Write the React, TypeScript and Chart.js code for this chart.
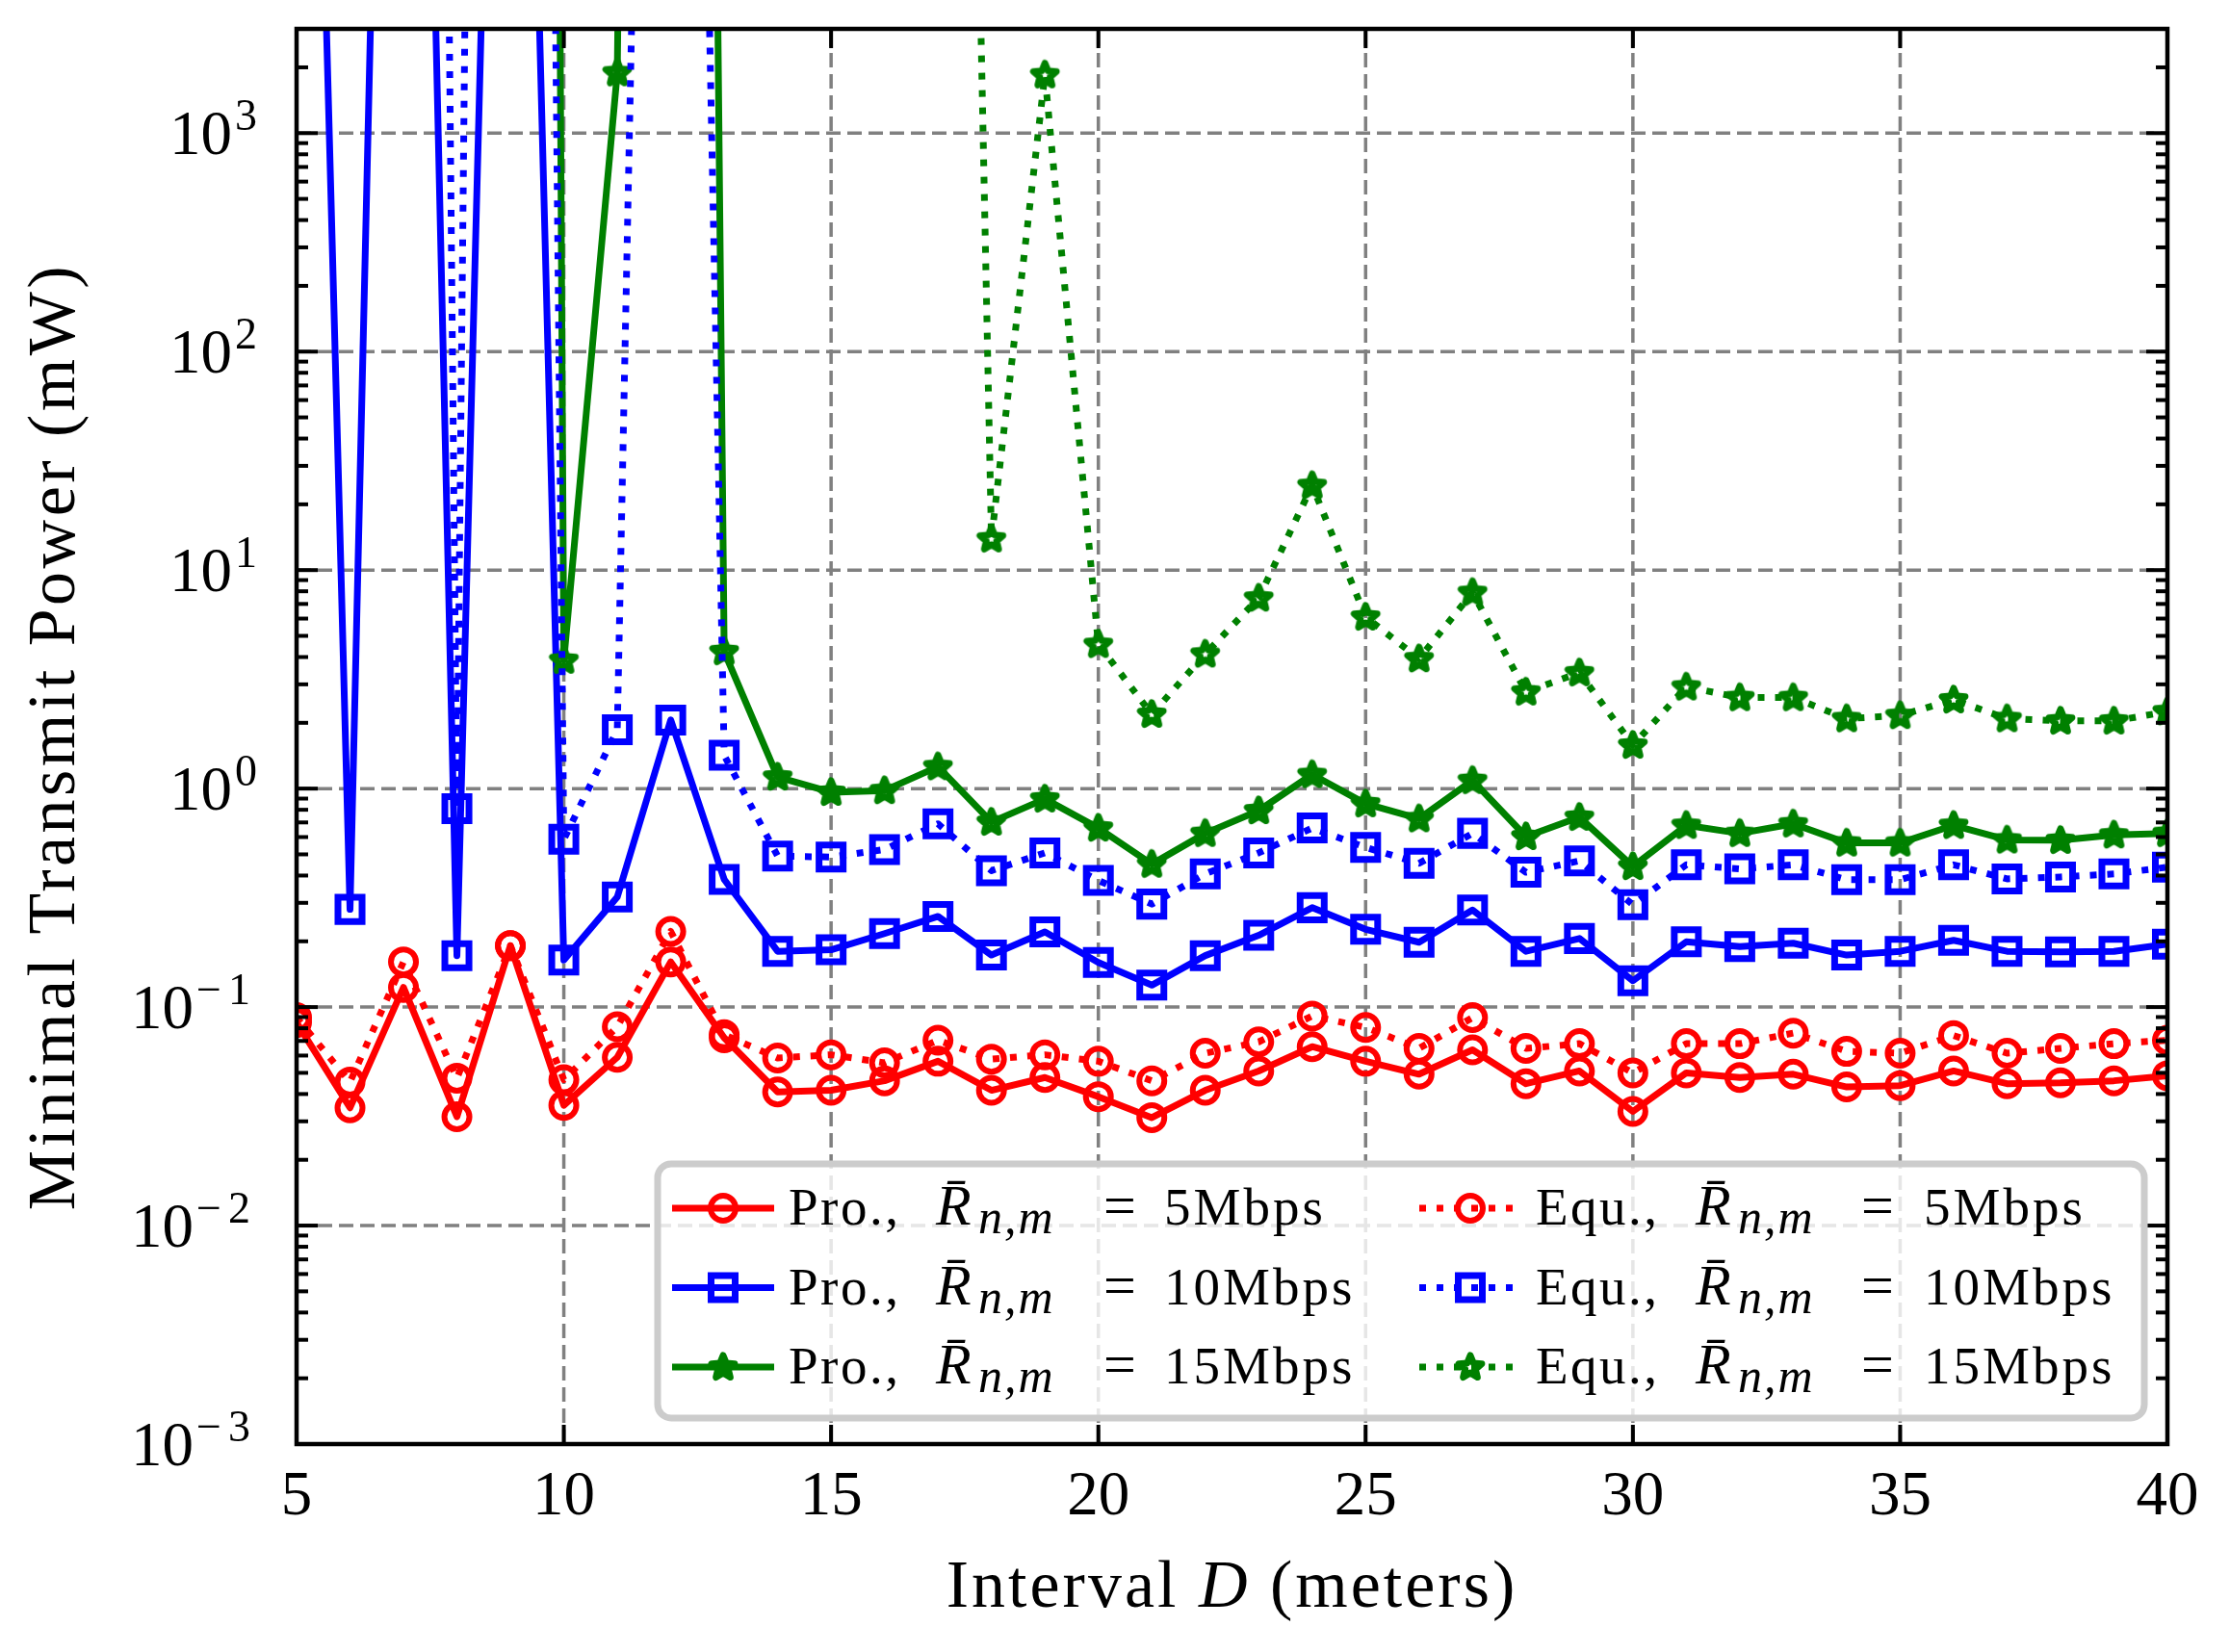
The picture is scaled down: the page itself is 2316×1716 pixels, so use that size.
import { useEffect, useRef } from 'react';
import { Chart, registerables } from 'chart.js';

Chart.register(...registerables);

// interval D (meters)
const distance = [
  5, 6, 7, 8, 9, 10, 11, 12, 13, 14, 15, 16, 17, 18, 19, 20, 21, 22,
  23, 24, 25, 26, 27, 28, 29, 30, 31, 32, 33, 34, 35, 36, 37, 38, 39, 40,
];

// minimal transmit power (mW); very large values are the infeasible points that run off the top
const pro5 = [
  0.085, 0.0346, 0.123, 0.0315, 0.191, 0.0355, 0.0589, 0.161, 0.0724, 0.0409, 0.0416, 0.046,
  0.0565, 0.0416, 0.0476, 0.0389, 0.0312, 0.0416, 0.051, 0.0659, 0.0565, 0.0493, 0.0637, 0.0446,
  0.051, 0.0333, 0.05, 0.0476, 0.0493, 0.0431, 0.0437, 0.051, 0.0446, 0.045, 0.046, 0.0485,
];
const pro10 = [
  4e8, 0.28, 1e10, 0.172, 4e8, 0.164, 0.319, 2.06, 0.384, 0.18, 0.183, 0.217,
  0.26, 0.173, 0.221, 0.16, 0.126, 0.172, 0.213, 0.285, 0.227, 0.198, 0.278, 0.18,
  0.206, 0.132, 0.199, 0.189, 0.196, 0.173, 0.18, 0.202, 0.18, 0.179, 0.18, 0.194,
];
const pro15 = [
  1e40, 1e40, 1e40, 1e40, 1e42, 3.87, 1890, 1e25, 4.24, 1.13, 0.962, 0.98,
  1.26, 0.703, 0.897, 0.66, 0.451, 0.624, 0.793, 1.16, 0.853, 0.728, 1.09, 0.603,
  0.74, 0.44, 0.679, 0.624, 0.69, 0.564, 0.564, 0.679, 0.582, 0.58, 0.614, 0.624,
];
const equ5 = [
  0.0896, 0.0454, 0.161, 0.0473, 0.191, 0.0465, 0.0813, 0.222, 0.0747, 0.0585, 0.0605, 0.0556,
  0.0705, 0.0578, 0.0605, 0.0565, 0.046, 0.0615, 0.0693, 0.091, 0.0807, 0.0647, 0.0895, 0.0647,
  0.068, 0.05, 0.068, 0.068, 0.076, 0.0627, 0.0615, 0.0741, 0.0615, 0.0647, 0.068, 0.0705,
];
const equ10 = [
  1e25, 1e25, 1e25, 0.81, 1e24, 0.586, 1.86, 2e12, 1.42, 0.491, 0.486, 0.526,
  0.69, 0.421, 0.508, 0.38, 0.296, 0.407, 0.508, 0.66, 0.538, 0.455, 0.624, 0.414,
  0.467, 0.294, 0.448, 0.429, 0.448, 0.383, 0.383, 0.448, 0.386, 0.394, 0.407, 0.437,
];
const equ15 = [
  1e40, 1e40, 1e40, 1e40, 1e40, 1e40, 1e40, 1e40, 1e40, 1e40, 1e40, 1e40,
  1e13, 13.9, 1850, 4.57, 2.19, 4.13, 7.45, 24.4, 6.1, 3.93, 7.9, 2.77,
  3.39, 1.58, 2.92, 2.61, 2.61, 2.09, 2.16, 2.55, 2.09, 2.04, 2.04, 2.25,
];

const X_TICKS = [5, 10, 15, 20, 25, 30, 35, 40];
const Y_DECADES = [-3, -2, -1, 0, 1, 2, 3];
const RATES = [5, 10, 15];
const Y_MIN = 1e-3;
const Y_MAX = 3000;

const SERIF = '"Liberation Serif", "DejaVu Serif", serif';

const series = [
  { scheme: 'Pro.', rate: 5, data: pro5, color: '#ff0000', marker: 'circle', dotted: false },
  { scheme: 'Pro.', rate: 10, data: pro10, color: '#0000ff', marker: 'rect', dotted: false },
  { scheme: 'Pro.', rate: 15, data: pro15, color: '#008000', marker: 'star', dotted: false },
  { scheme: 'Equ.', rate: 5, data: equ5, color: '#ff0000', marker: 'circle', dotted: true },
  { scheme: 'Equ.', rate: 10, data: equ10, color: '#0000ff', marker: 'rect', dotted: true },
  { scheme: 'Equ.', rate: 15, data: equ15, color: '#008000', marker: 'star', dotted: true },
];

// matplotlib-like '*' marker with a heavy edge
function makeStar(color: string) {
  const c = document.createElement('canvas');
  c.width = 42;
  c.height = 42;
  const g = c.getContext('2d')!;
  g.translate(21, 21.5);
  g.beginPath();
  for (let i = 0; i < 10; i++) {
    const r = i % 2 === 0 ? 12.5 : 5.6;
    const a = -Math.PI / 2 + (i * Math.PI) / 5;
    if (i === 0) g.moveTo(r * Math.cos(a), r * Math.sin(a));
    else g.lineTo(r * Math.cos(a), r * Math.sin(a));
  }
  g.closePath();
  g.lineJoin = 'round';
  g.lineWidth = 7;
  g.strokeStyle = color;
  g.stroke();
  return c;
}

function line(ctx: CanvasRenderingContext2D, x1: number, y1: number, x2: number, y2: number) {
  ctx.beginPath();
  ctx.moveTo(x1, y1);
  ctx.lineTo(x2, y2);
  ctx.stroke();
}

function text(ctx: CanvasRenderingContext2D, s: string, x: number, y: number, font: string, spacing = 0) {
  ctx.font = font;
  (ctx as any).letterSpacing = `${spacing}px`;
  ctx.fillText(s, x, y);
  (ctx as any).letterSpacing = '0px';
}

function drawMarker(ctx: CanvasRenderingContext2D, marker: string, color: string, x: number, y: number, star: HTMLCanvasElement) {
  ctx.save();
  ctx.setLineDash([]);
  ctx.strokeStyle = color;
  if (marker === 'circle') {
    ctx.lineWidth = 6;
    ctx.beginPath();
    ctx.arc(x, y, 13, 0, Math.PI * 2);
    ctx.stroke();
  } else if (marker === 'rect') {
    ctx.lineWidth = 7;
    ctx.strokeRect(x - 12.5, y - 12.5, 25, 25);
  } else {
    ctx.drawImage(star, x - star.width / 2, y - star.height / 2);
  }
  ctx.restore();
}

export default function App() {
  const canvasRef = useRef<HTMLCanvasElement | null>(null);
  const chartRef = useRef<Chart | null>(null);

  useEffect(() => {
    if (!canvasRef.current) return;
    if (chartRef.current) chartRef.current.destroy();

    const star = makeStar('#008000');

    const axesPlugin = {
      id: 'sciAxes',
      beforeDatasetsDraw(chart: any) {
        const { ctx, chartArea: a, scales } = chart;
        ctx.save();
        ctx.strokeStyle = '#808080';
        ctx.lineWidth = 3.5;
        ctx.setLineDash([15, 7]);
        for (const t of X_TICKS) {
          const px = scales.x.getPixelForValue(t);
          line(ctx, px, a.bottom, px, a.top);
        }
        for (const k of Y_DECADES) {
          const py = scales.y.getPixelForValue(Math.pow(10, k));
          line(ctx, a.left, py, a.right, py);
        }
        ctx.restore();
      },
      afterDatasetsDraw(chart: any) {
        const { ctx, chartArea: a, scales } = chart;
        const xs = scales.x;
        const ys = scales.y;
        ctx.save();
        ctx.setLineDash([]);
        ctx.strokeStyle = '#000';
        ctx.fillStyle = '#000';

        // inward ticks on all four sides
        ctx.lineWidth = 4;
        for (const t of X_TICKS) {
          const px = xs.getPixelForValue(t);
          line(ctx, px, a.bottom, px, a.bottom - 20);
          line(ctx, px, a.top, px, a.top + 20);
        }
        for (const k of Y_DECADES) {
          for (let m = 1; m <= 9; m++) {
            const v = m * Math.pow(10, k);
            if (v > Y_MAX) break;
            const py = ys.getPixelForValue(v);
            const len = m === 1 ? 22 : 12;
            line(ctx, a.left, py, a.left + len, py);
            line(ctx, a.right, py, a.right - len, py);
          }
        }
        ctx.lineWidth = 4.5;
        ctx.strokeRect(a.left, a.top, a.right - a.left, a.bottom - a.top);

        // tick labels
        ctx.textBaseline = 'alphabetic';
        ctx.textAlign = 'center';
        for (const t of X_TICKS) {
          text(ctx, String(t), xs.getPixelForValue(t), a.bottom + 73, `65px ${SERIF}`);
        }
        ctx.textAlign = 'right';
        for (const k of Y_DECADES) {
          const py = ys.getPixelForValue(Math.pow(10, k));
          const exp = k < 0 ? `\u2212${-k}` : String(k);
          const right = a.left - 41;
          const sp = k < 0 ? 7 : 0;
          ctx.font = `46px ${SERIF}`;
          (ctx as any).letterSpacing = `${sp}px`;
          const w = ctx.measureText(exp).width;
          text(ctx, exp, right, py - 3, `46px ${SERIF}`, sp);
          text(ctx, '10', right - w - 3, py + 22, `65px ${SERIF}`);
        }

        // axis titles
        ctx.textAlign = 'left';
        const cx = (a.left + a.right) / 2;
        const parts = [
          { s: 'Interval ', f: `70px ${SERIF}` },
          { s: 'D', f: `italic 70px ${SERIF}` },
          { s: ' (meters)', f: `70px ${SERIF}` },
        ];
        let total = 0;
        const widths = parts.map((p) => {
          ctx.font = p.f;
          (ctx as any).letterSpacing = '3px';
          const w = ctx.measureText(p.s).width;
          total += w;
          return w;
        });
        let xx = cx - total / 2;
        parts.forEach((p, i) => {
          text(ctx, p.s, xx, a.bottom + 169, p.f, 3);
          xx += widths[i];
        });

        ctx.save();
        ctx.translate(77, (a.top + a.bottom) / 2);
        ctx.rotate(-Math.PI / 2);
        ctx.textAlign = 'center';
        text(ctx, 'Minimal Transmit Power (mW)', 0, 0, `70px ${SERIF}`, 3.5);
        ctx.restore();

        // legend
        const L = { left: 683, top: 1209, right: 2227, bottom: 1473 };
        ctx.beginPath();
        ctx.roundRect(L.left, L.top, L.right - L.left, L.bottom - L.top, 14);
        ctx.fillStyle = 'rgba(255,255,255,0.8)';
        ctx.fill();
        ctx.lineWidth = 7;
        ctx.strokeStyle = '#cccccc';
        ctx.stroke();

        const cols = [
          { h0: 698, h1: 804, tx: 819, r: 972, sub: 1016, eq: 1146, val: 1209 },
          { h0: 1474, h1: 1580, tx: 1595, r: 1761, sub: 1805, eq: 1933, val: 1998 },
        ];
        series.forEach((s) => {
          const c = cols[s.dotted ? 1 : 0];
          const row = RATES.indexOf(s.rate);
          const base = 1272 + row * 82.5;
          const hy = base - 17;
          ctx.save();
          ctx.strokeStyle = s.color;
          ctx.lineWidth = 7;
          ctx.lineCap = 'butt';
          ctx.setLineDash(s.dotted ? [7, 11] : []);
          line(ctx, c.h0, hy, c.h1, hy);
          ctx.restore();
          drawMarker(ctx, s.marker, s.color, (c.h0 + c.h1) / 2, hy, star);

          ctx.fillStyle = '#000';
          ctx.textAlign = 'left';
          text(ctx, `${s.scheme},`, c.tx, base, `55px ${SERIF}`, 2.5);
          text(ctx, 'R\u0304', c.r, base, `italic 60px ${SERIF}`);
          text(ctx, 'n,m', c.sub, base + 9, `italic 50px ${SERIF}`, 2);
          text(ctx, '=', c.eq, base, `60px ${SERIF}`);
          text(ctx, `${s.rate}Mbps`, c.val, base, `55px ${SERIF}`, 3);
        });

        ctx.restore();
      },
    };

    chartRef.current = new Chart(canvasRef.current, {
      type: 'line',
      data: {
        datasets: series.map((s, i) => ({
          label: `${s.scheme}, R = ${s.rate}Mbps`,
          data: distance.map((d, j) => ({ x: d, y: s.data[j] })),
          borderColor: s.color,
          borderWidth: 7,
          borderDash: s.dotted ? [7, 11] : [],
          borderCapStyle: 'butt',
          borderJoinStyle: 'round',
          tension: 0,
          fill: false,
          pointStyle: s.marker === 'star' ? star : s.marker,
          pointRadius: s.marker === 'rect' ? 17.7 : s.marker === 'circle' ? 13 : 16,
          pointBorderWidth: s.marker === 'rect' ? 7 : 6,
          pointBorderColor: s.color,
          pointBackgroundColor: 'rgba(0,0,0,0)',
          clip: 0,
          order: series.length - i,
        })),
      },
      options: {
        animation: false,
        responsive: true,
        maintainAspectRatio: false,
        events: [],
        layout: { padding: { top: 30, right: 65, left: 0, bottom: 0 } },
        scales: {
          x: {
            type: 'linear',
            min: 5,
            max: 40,
            ticks: { display: false },
            grid: { display: false },
            border: { display: false },
            afterFit: (scale: any) => {
              scale.height = 216;
            },
          },
          y: {
            type: 'logarithmic',
            min: Y_MIN,
            max: Y_MAX,
            ticks: { display: false },
            grid: { display: false },
            border: { display: false },
            afterFit: (scale: any) => {
              scale.width = 308;
            },
          },
        },
        plugins: {
          legend: { display: false },
          tooltip: { enabled: false },
        },
      },
      plugins: [axesPlugin],
    } as any);

    return () => {
      if (chartRef.current) {
        chartRef.current.destroy();
        chartRef.current = null;
      }
    };
  }, []);

  return (
    <div style={{ position: 'absolute', left: 0, top: 0, width: '2316px', height: '1716px', background: '#fff' }}>
      <canvas ref={canvasRef} aria-label="Minimal transmit power versus interval D" />
    </div>
  );
}
